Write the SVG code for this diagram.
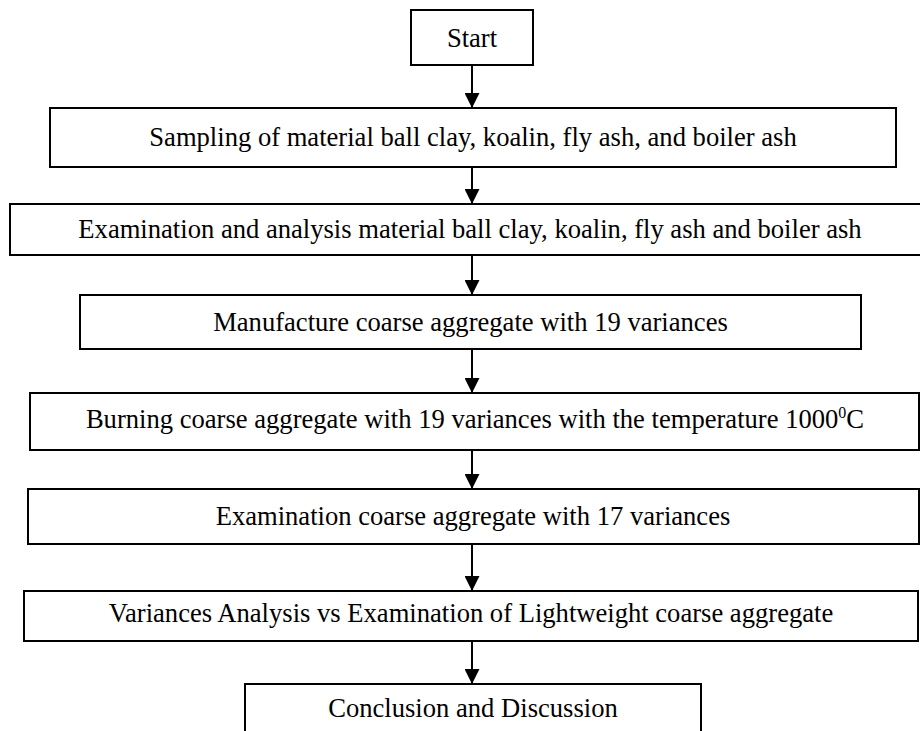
<svg xmlns="http://www.w3.org/2000/svg" width="920" height="731" viewBox="0 0 920 731">
<style>
.box{fill:#fff;stroke:#000;stroke-width:2}
.lbl{font-family:"Liberation Serif","Times New Roman",serif;font-size:26.6px;fill:#000;text-anchor:middle}
.sup{font-size:16px}
.edge{stroke:#000;stroke-width:2;fill:none}
</style>
<defs>
<marker id="ah" markerUnits="userSpaceOnUse" markerWidth="15" markerHeight="15" refX="15" refY="7.5" orient="auto" viewBox="0 0 15 15">
<path d="M0,0 L15,7.5 L0,15 Z" fill="#000"/>
</marker>
</defs>
<g id="connectors">
<line class="edge" x1="472" y1="65" x2="472" y2="108" marker-end="url(#ah)"/>
<line class="edge" x1="472" y1="167" x2="472" y2="204" marker-end="url(#ah)"/>
<line class="edge" x1="472" y1="255" x2="472" y2="295" marker-end="url(#ah)"/>
<line class="edge" x1="472" y1="349" x2="472" y2="393" marker-end="url(#ah)"/>
<line class="edge" x1="472" y1="450" x2="472" y2="489" marker-end="url(#ah)"/>
<line class="edge" x1="472" y1="544" x2="472" y2="591" marker-end="url(#ah)"/>
<line class="edge" x1="472" y1="641" x2="472" y2="684" marker-end="url(#ah)"/>
</g>
<g id="n1"><rect class="box" x="411" y="10" width="122" height="55"/><text class="lbl" x="472" y="46.5">Start</text></g>
<g id="n2"><rect class="box" x="50" y="108" width="846" height="59"/><text class="lbl" x="473" y="146">Sampling of material ball clay, koalin, fly ash, and boiler ash</text></g>
<g id="n3"><rect class="box" x="10" y="204" width="930" height="51"/><text class="lbl" x="470" y="238">Examination and analysis material ball clay, koalin, fly ash and boiler ash</text></g>
<g id="n4"><rect class="box" x="80" y="295" width="781" height="54"/><text class="lbl" x="470.5" y="331">Manufacture coarse aggregate with 19 variances</text></g>
<g id="n5"><rect class="box" x="30" y="393" width="889" height="57"/><text class="lbl" x="475" y="428">Burning coarse aggregate with 19 variances with the temperature 1000<tspan class="sup" dy="-10">0</tspan><tspan dy="10">C</tspan></text></g>
<g id="n6"><rect class="box" x="28" y="489" width="891" height="55"/><text class="lbl" x="473" y="525">Examination coarse aggregate with 17 variances</text></g>
<g id="n7"><rect class="box" x="24" y="591" width="894" height="50"/><text class="lbl" x="471" y="622">Variances Analysis vs Examination of Lightweight coarse aggregate</text></g>
<g id="n8"><rect class="box" x="245" y="684" width="456" height="70"/><text class="lbl" x="473" y="717">Conclusion and Discussion</text></g>
</svg>
